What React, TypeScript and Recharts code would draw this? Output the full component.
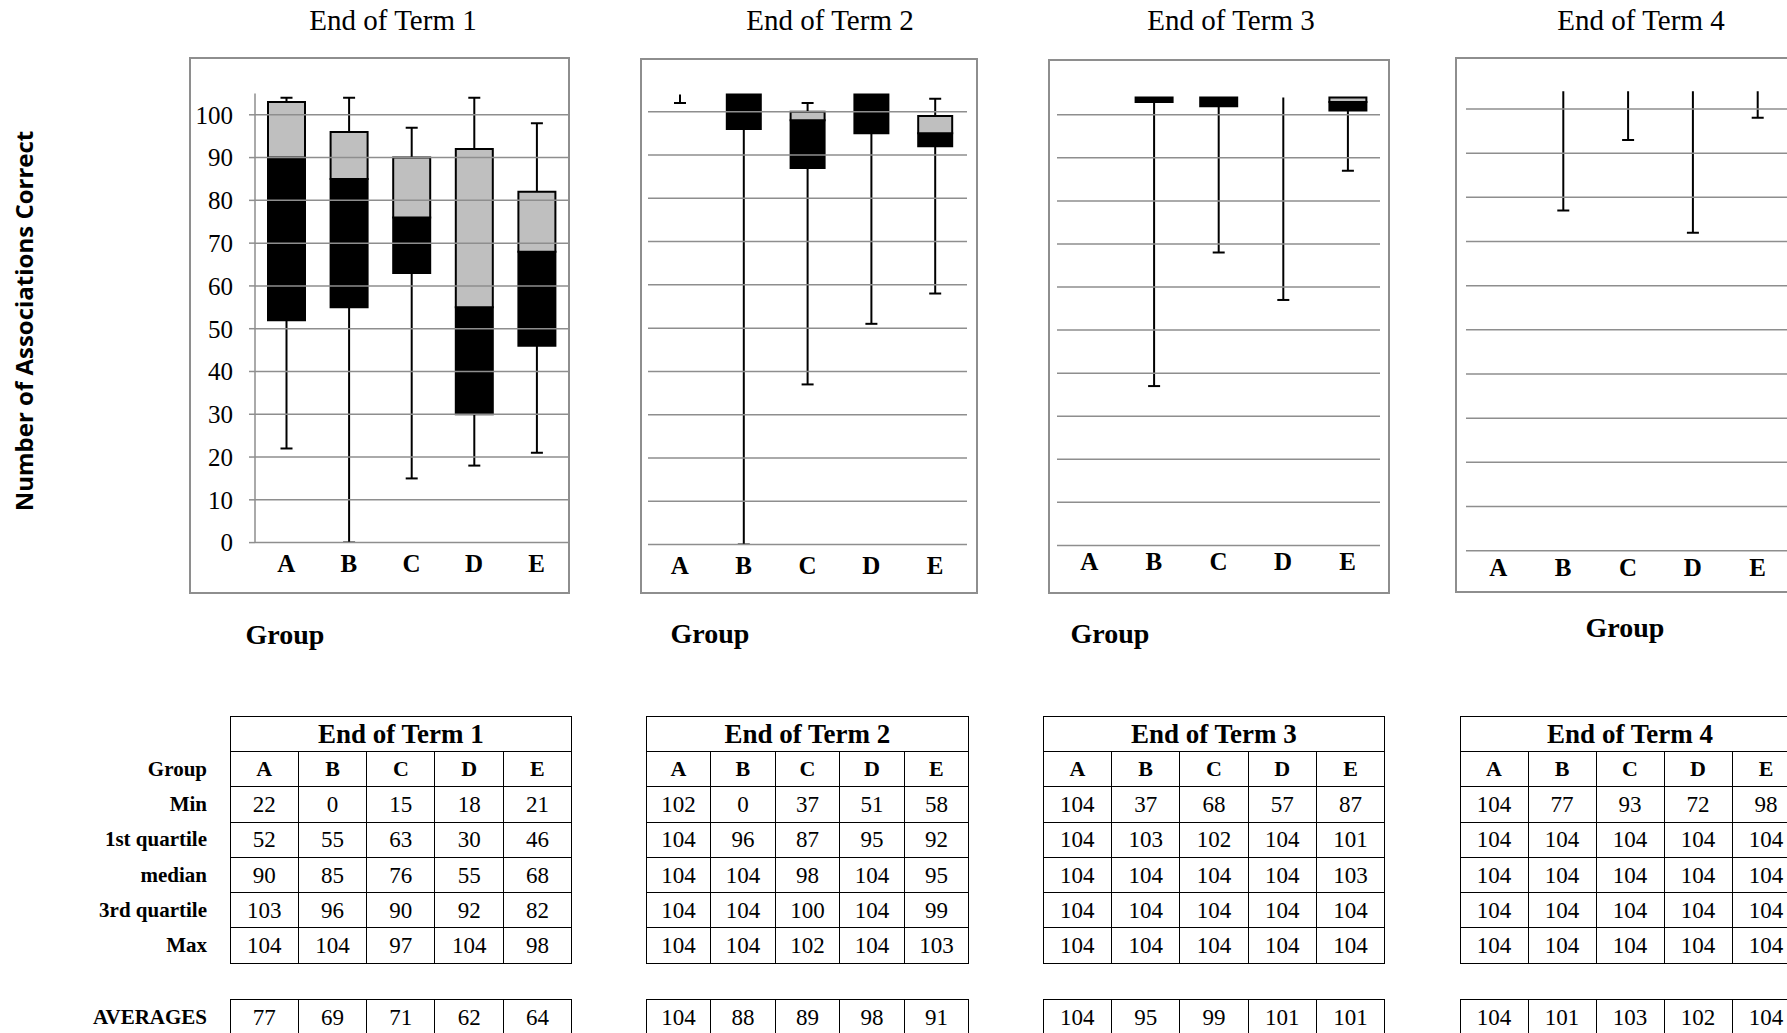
import React from 'react';
import { ComposedChart, Bar, XAxis, YAxis, ReferenceLine } from 'recharts';

const SERIF = "'Liberation Serif', 'Times New Roman', serif";

const groups = ['A', 'B', 'C', 'D', 'E'];
const termTitles = ['End of Term 1', 'End of Term 2', 'End of Term 3', 'End of Term 4'];
const yTicks = [0, 10, 20, 30, 40, 50, 60, 70, 80, 90, 100];

// one row per term, one value per group
const minValues = [
  [22, 0, 15, 18, 21],
  [102, 0, 37, 51, 58],
  [104, 37, 68, 57, 87],
  [104, 77, 93, 72, 98],
];
const q1Values = [
  [52, 55, 63, 30, 46],
  [104, 96, 87, 95, 92],
  [104, 103, 102, 104, 101],
  [104, 104, 104, 104, 104],
];
const medianValues = [
  [90, 85, 76, 55, 68],
  [104, 104, 98, 104, 95],
  [104, 104, 104, 104, 103],
  [104, 104, 104, 104, 104],
];
const q3Values = [
  [103, 96, 90, 92, 82],
  [104, 104, 100, 104, 99],
  [104, 104, 104, 104, 104],
  [104, 104, 104, 104, 104],
];
const maxValues = [
  [104, 104, 97, 104, 98],
  [104, 104, 102, 104, 103],
  [104, 104, 104, 104, 104],
  [104, 104, 104, 104, 104],
];
const averageValues = [
  [77, 69, 71, 62, 64],
  [104, 88, 89, 98, 91],
  [104, 95, 99, 101, 101],
  [104, 101, 103, 102, 104],
];

const statRows = [
  { label: 'Min', values: minValues },
  { label: '1st quartile', values: q1Values },
  { label: 'median', values: medianValues },
  { label: '3rd quartile', values: q3Values },
  { label: 'Max', values: maxValues },
];

// page layout (pixels)
const chartLayouts = [
  { box: [189, 57, 381, 537], plotLeft: 255, plotRight: 568, y0: 542.6, y100: 114.8, barSize: 37, tickMargin: 12, title: [393, 21], groupLabel: [285, 635], showAxis: true },
  { box: [640, 58, 338, 536], plotLeft: 648, plotRight: 967, y0: 544.6, y100: 111.7, barSize: 34, tickMargin: 12, title: [830, 21], groupLabel: [710, 634], showAxis: false },
  { box: [1048, 59, 342, 535], plotLeft: 1057, plotRight: 1380, y0: 545.4, y100: 114.8, barSize: 37, tickMargin: 7, title: [1231, 21], groupLabel: [1110, 634], showAxis: false },
  { box: [1455, 57, 347, 536], plotLeft: 1466, plotRight: 1790, y0: 550.7, y100: 109, barSize: 37, tickMargin: 7.5, title: [1641, 21], groupLabel: [1625, 628], showAxis: false },
];
const tableLayouts = [
  { left: 229.6, colWidth: 68.3 },
  { left: 645.7, colWidth: 64.5 },
  { left: 1042.7, colWidth: 68.3 },
  { left: 1459.5, colWidth: 68 },
];
const TABLE_TOP = 716;
const TITLE_ROW = 35;
const ROW_H = 35.3;
const AVG_TOP = 999;
const GRID = '#8e8e8e';

const LowWhisker = (props: any) => {
  const { x, y, width, height } = props;
  if (!(Math.abs(height) > 0.5)) return <g />;
  const cx = x + width / 2;
  const top = Math.min(y, y + height);
  const bottom = Math.max(y, y + height);
  return (
    <g>
      <line x1={cx} x2={cx} y1={top} y2={bottom} stroke="#000" strokeWidth={2} />
      <line x1={cx - 6} x2={cx + 6} y1={bottom} y2={bottom} stroke="#000" strokeWidth={2} />
    </g>
  );
};

const HighWhisker = (props: any) => {
  const { x, y, width, height } = props;
  if (!(Math.abs(height) > 0.5)) return <g />;
  const cx = x + width / 2;
  const top = Math.min(y, y + height);
  const bottom = Math.max(y, y + height);
  return (
    <g>
      <line x1={cx} x2={cx} y1={top} y2={bottom} stroke="#000" strokeWidth={2} />
      <line x1={cx - 6} x2={cx + 6} y1={top} y2={top} stroke="#000" strokeWidth={2} />
    </g>
  );
};

function TermChart({ index }: { index: number }) {
  const L = chartLayouts[index];
  const [bx, by, bw, bh] = L.box;
  const data = groups.map((group, i) => ({
    group,
    min: minValues[index][i],
    q1: q1Values[index][i],
    med: medianValues[index][i],
    q3: q3Values[index][i],
    max: maxValues[index][i],
  }));
  const yAxisWidth = L.showAxis ? L.plotLeft - bx : 0;
  const yTop = L.y0 - (L.y0 - L.y100) * 1.05;
  const xAxisHeight = 40;
  const margin = {
    left: L.showAxis ? 0 : L.plotLeft - bx,
    right: bx + bw - L.plotRight,
    top: yTop - by,
    bottom: by + bh - L.y0 - xAxisHeight,
  };

  return (
    <>
      <div
        style={{
          position: 'absolute',
          left: bx,
          top: by,
          width: bw,
          height: bh,
          border: '2px solid #8e8e8e',
          boxSizing: 'border-box',
        }}
      />
      <div style={{ position: 'absolute', left: bx, top: by, width: bw, height: bh }}>
        <ComposedChart width={bw} height={bh} data={data} margin={margin} barGap={-L.barSize}>
          <XAxis
            dataKey="group"
            axisLine={false}
            tickLine={false}
            tickSize={0}
            tickMargin={L.tickMargin}
            height={xAxisHeight}
            interval={0}
            tick={{ fill: '#000', fontSize: 25, fontWeight: 'bold', fontFamily: SERIF }}
          />
          {L.showAxis ? (
            <YAxis
              width={yAxisWidth}
              domain={[0, 105]}
              ticks={yTicks}
              interval={0}
              allowDataOverflow
              axisLine={{ stroke: GRID, strokeWidth: 1.5 }}
              tickLine={{ stroke: GRID, strokeWidth: 1.5 }}
              tickSize={6}
              tickMargin={16}
              tick={{ fill: '#000', fontSize: 25, fontFamily: SERIF }}
            />
          ) : (
            <YAxis hide width={0} domain={[0, 105]} ticks={yTicks} allowDataOverflow />
          )}
          {yTicks.map((t) => (
            <ReferenceLine key={t} y={t} stroke={GRID} strokeWidth={1.5} />
          ))}
          <Bar dataKey={(d: any) => [d.min, d.q1]} barSize={L.barSize} shape={(p: any) => <LowWhisker {...p} />} isAnimationActive={false} />
          <Bar dataKey={(d: any) => [d.q3, d.max]} barSize={L.barSize} shape={(p: any) => <HighWhisker {...p} />} isAnimationActive={false} />
          <Bar dataKey={(d: any) => [d.q1, d.med]} barSize={L.barSize} fill="#000" stroke="#000" strokeWidth={2} isAnimationActive={false} />
          <Bar dataKey={(d: any) => [d.med, d.q3]} barSize={L.barSize} fill="#bfbfbf" stroke="#000" strokeWidth={2} isAnimationActive={false} />
        </ComposedChart>
      </div>
      <div
        style={{
          position: 'absolute',
          left: L.title[0] - 150,
          top: L.title[1] - 14.7,
          width: 300,
          textAlign: 'center',
          fontFamily: SERIF,
          fontSize: 29,
          lineHeight: '29px',
          whiteSpace: 'nowrap',
        }}
      >
        {termTitles[index]}
      </div>
      <div
        style={{
          position: 'absolute',
          left: L.groupLabel[0] - 100,
          top: L.groupLabel[1] - 14.2,
          width: 200,
          textAlign: 'center',
          fontFamily: SERIF,
          fontWeight: 'bold',
          fontSize: 28,
          lineHeight: '28px',
        }}
      >
        Group
      </div>
    </>
  );
}

const cellStyle: React.CSSProperties = {
  border: '1.5px solid #000',
  padding: 0,
  textAlign: 'center',
  verticalAlign: 'middle',
  lineHeight: 1,
  fontFamily: SERIF,
};

function StatTable({ index }: { index: number }) {
  const T = tableLayouts[index];
  const tableStyle: React.CSSProperties = {
    position: 'absolute',
    left: T.left,
    borderCollapse: 'collapse',
    tableLayout: 'fixed',
    width: T.colWidth * 5,
  };
  return (
    <>
      <table style={{ ...tableStyle, top: TABLE_TOP }}>
        <colgroup>
          {groups.map((g) => (
            <col key={g} style={{ width: T.colWidth }} />
          ))}
        </colgroup>
        <tbody>
          <tr style={{ height: TITLE_ROW }}>
            <td colSpan={5} style={{ ...cellStyle, fontSize: 27, fontWeight: 'bold' }}>
              {termTitles[index]}
            </td>
          </tr>
          <tr style={{ height: ROW_H }}>
            {groups.map((g) => (
              <td key={g} style={{ ...cellStyle, fontSize: 22, fontWeight: 'bold' }}>
                {g}
              </td>
            ))}
          </tr>
          {statRows.map((row) => (
            <tr key={row.label} style={{ height: ROW_H }}>
              {row.values[index].map((v, i) => (
                <td key={i} style={{ ...cellStyle, fontSize: 23 }}>
                  {v}
                </td>
              ))}
            </tr>
          ))}
        </tbody>
      </table>
      <table style={{ ...tableStyle, top: AVG_TOP }}>
        <colgroup>
          {groups.map((g) => (
            <col key={g} style={{ width: T.colWidth }} />
          ))}
        </colgroup>
        <tbody>
          <tr style={{ height: ROW_H }}>
            {averageValues[index].map((v, i) => (
              <td key={i} style={{ ...cellStyle, fontSize: 23 }}>
                {v}
              </td>
            ))}
          </tr>
        </tbody>
      </table>
    </>
  );
}

const rowLabels = ['Group', ...statRows.map((r) => r.label)];

export default function App() {
  return (
    <div
      style={{
        position: 'absolute',
        left: 0,
        top: 0,
        width: 1787,
        height: 1033,
        overflow: 'hidden',
        background: '#fff',
        color: '#000',
      }}
    >
      <div
        style={{
          position: 'absolute',
          left: 23.5 - 250,
          top: 321 - 15,
          width: 500,
          height: 30,
          lineHeight: '30px',
          textAlign: 'center',
          transform: 'rotate(-90deg)',
          fontFamily: "'Open Sans', sans-serif",
          fontWeight: 700,
          fontSize: 24,
          whiteSpace: 'nowrap',
        }}
      >
        Number of Associations Correct
      </div>

      {chartLayouts.map((_, i) => (
        <TermChart key={i} index={i} />
      ))}

      {rowLabels.map((label, i) => (
        <div
          key={label}
          style={{
            position: 'absolute',
            left: 0,
            width: 207,
            top: TABLE_TOP + TITLE_ROW + ROW_H * i + ROW_H / 2 - 11,
            height: 22,
            lineHeight: '22px',
            textAlign: 'right',
            fontFamily: SERIF,
            fontWeight: 'bold',
            fontSize: 21,
          }}
        >
          {label}
        </div>
      ))}
      <div
        style={{
          position: 'absolute',
          left: 0,
          width: 207,
          top: AVG_TOP + ROW_H / 2 - 11,
          height: 22,
          lineHeight: '22px',
          textAlign: 'right',
          fontFamily: SERIF,
          fontWeight: 'bold',
          fontSize: 21,
        }}
      >
        AVERAGES
      </div>

      {tableLayouts.map((_, i) => (
        <StatTable key={i} index={i} />
      ))}
    </div>
  );
}
